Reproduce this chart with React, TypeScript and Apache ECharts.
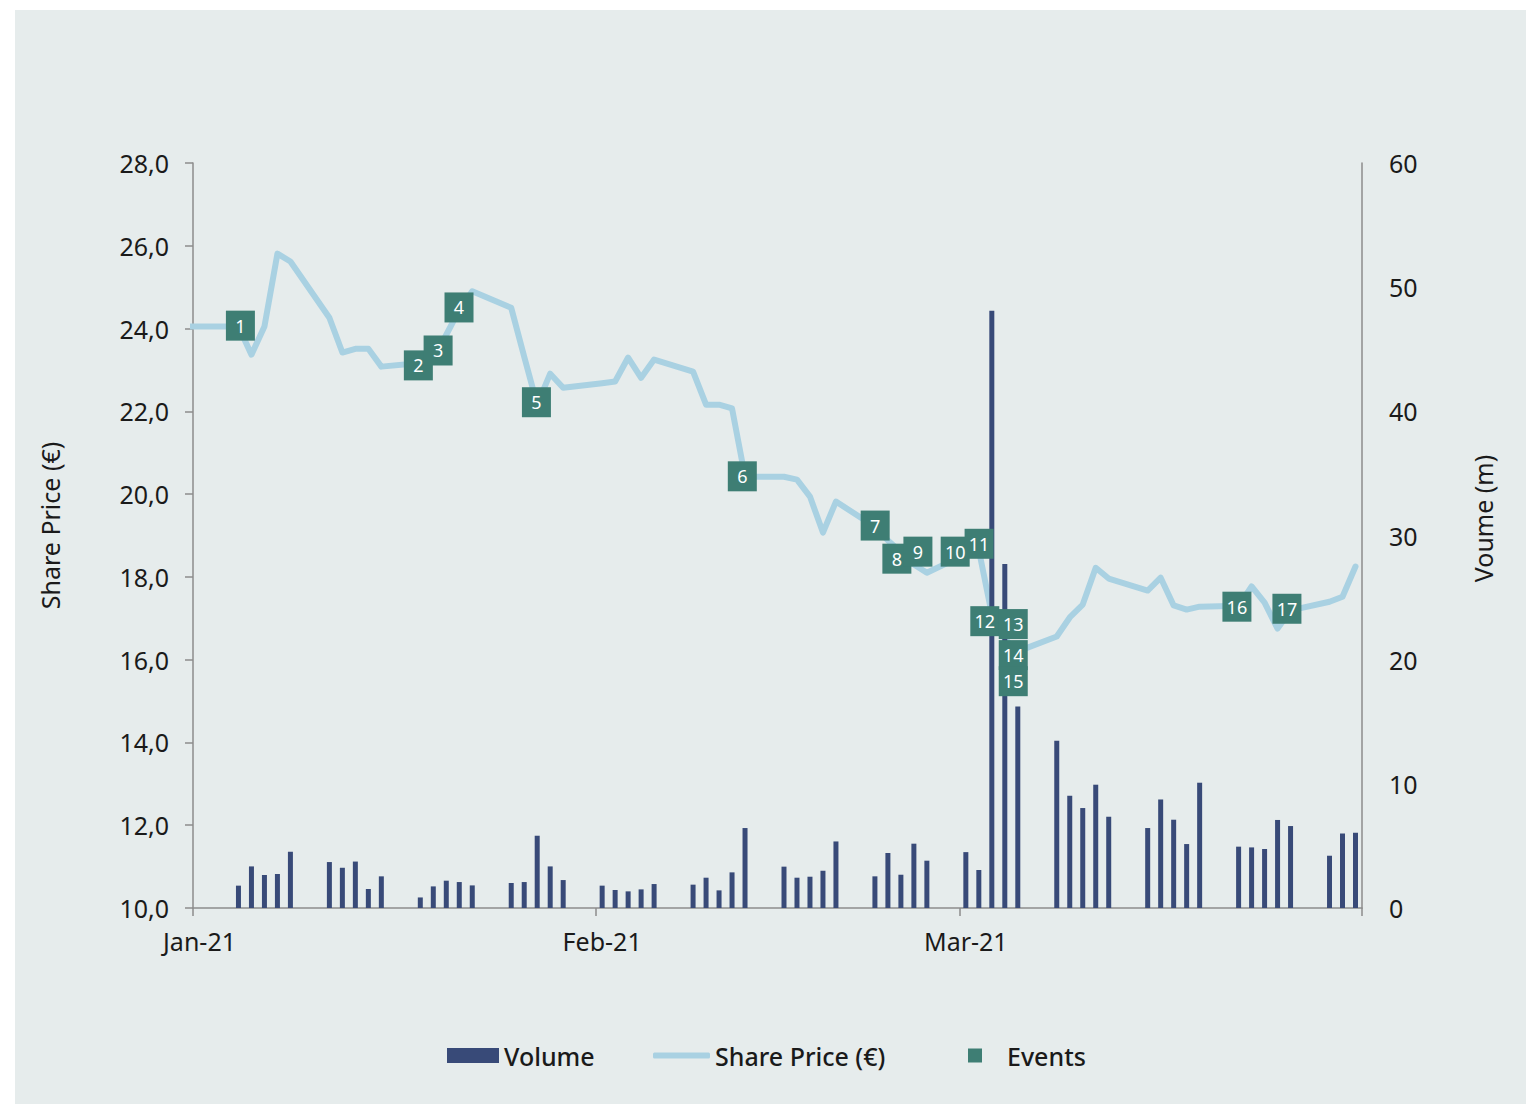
import React, { useEffect, useRef } from "react";
import * as echarts from "echarts";

// Trading days (Jan–Mar 2021)
const tradingDates = [
  "2021-01-04","2021-01-05","2021-01-06","2021-01-07","2021-01-08",
  "2021-01-11","2021-01-12","2021-01-13","2021-01-14","2021-01-15",
  "2021-01-18","2021-01-19","2021-01-20","2021-01-21","2021-01-22",
  "2021-01-25","2021-01-26","2021-01-27","2021-01-28","2021-01-29",
  "2021-02-01","2021-02-02","2021-02-03","2021-02-04","2021-02-05",
  "2021-02-08","2021-02-09","2021-02-10","2021-02-11","2021-02-12",
  "2021-02-15","2021-02-16","2021-02-17","2021-02-18","2021-02-19",
  "2021-02-22","2021-02-23","2021-02-24","2021-02-25","2021-02-26",
  "2021-03-01","2021-03-02","2021-03-03","2021-03-04","2021-03-05",
  "2021-03-08","2021-03-09","2021-03-10","2021-03-11","2021-03-12",
  "2021-03-15","2021-03-16","2021-03-17","2021-03-18","2021-03-19",
  "2021-03-22","2021-03-23","2021-03-24","2021-03-25","2021-03-26",
  "2021-03-29","2021-03-30","2021-03-31",
];

// Volume (m)
const volume = [
  1.8, 3.35, 2.66, 2.74, 4.53, 3.7, 3.24, 3.74, 1.53, 2.55,
  0.85, 1.74, 2.2, 2.09, 1.82, 2.01, 2.09, 5.82, 3.35, 2.25,
  1.8, 1.45, 1.34, 1.5, 1.93, 1.88, 2.44, 1.42, 2.87, 6.44,
  3.33, 2.44, 2.52, 3.0, 5.36, 2.55, 4.43, 2.68, 5.18, 3.81,
  4.5, 3.06, 48.1, 27.7, 16.23, 13.47, 9.04, 8.05, 9.93, 7.35,
  6.44, 8.74, 7.11, 5.15, 10.09, 4.94, 4.88, 4.75, 7.09, 6.6,
  4.21, 6.0, 6.06,
];

// Share price (€) – leading holiday points carry the previous close
const leadingPriceDates = ["2020-12-31", "2021-01-01"];
const leadingPrices = [24.05, 24.05];
const price = [
  24.05, 23.37, 24.05, 25.81, 25.62, 24.26, 23.42, 23.51, 23.51, 23.08,
  23.17, 23.25, 23.85, 24.45, 24.9, 24.5, 23.32, 22.16, 22.91, 22.57,
  22.68, 22.72, 23.3, 22.81, 23.25, 22.96, 22.16, 22.16, 22.07, 20.42,
  20.42, 20.35, 19.94, 19.07, 19.82, 19.21, 18.88, 18.6, 18.3, 18.1,
  18.55, 18.65, 17.1, 16.5, 16.2, 16.56, 17.02, 17.33, 18.22, 17.96,
  17.67, 17.98, 17.31, 17.21, 17.28, 17.3, 17.77, 17.38, 16.75, 17.19,
  17.4, 17.52, 18.25,
];

// Events: position in days since 1 Jan 2021, price level, label
const eventDay = [3.65, 17.35, 18.87, 20.48, 26.44, 42.29, 52.52, 54.19, 55.81, 58.68, 60.52, 60.96, 63.15, 63.15, 63.15, 80.37, 84.22];
const eventPrice = [24.07, 23.11, 23.47, 24.51, 22.22, 20.43, 19.24, 18.44, 18.61, 18.61, 18.8, 16.93, 16.86, 16.11, 15.48, 17.28, 17.23];
const eventLabels = ["1","2","3","4","5","6","7","8","9","10","11","12","13","14","15","16","17"];

// Axis months
const monthStarts = ["2021-01-01", "2021-02-01", "2021-03-01", "2021-04-01"];
const monthLabels = ["Jan-21", "Feb-21", "Mar-21"];

const DAY0 = Date.UTC(2021, 0, 1);
const dayStart = (s: string) => {
  const [y, m, d] = s.split("-").map(Number);
  return (Date.UTC(y, m - 1, d) - DAY0) / 86400000;
};
const dayCenter = (s: string) => dayStart(s) + 0.5;

const FONT = "Noto Sans";
const AXIS_GREY = "#8c8c8c";
const TEXT = "#1a1a1a";
const LINE_BLUE = "#a9d1e2";

export default function App() {
  const ref = useRef<HTMLDivElement>(null);

  useEffect(() => {
    if (!ref.current) return;
    const chart = echarts.init(ref.current, undefined, { renderer: "svg" });

    const tickDays = monthStarts.map(dayStart);
    const labelDays = monthStarts.slice(0, 3).map(dayCenter);

    const volumeData = tradingDates.map((d, i) => [dayCenter(d), volume[i]]);
    const priceData = [
      ...leadingPriceDates.map((d, i) => [dayCenter(d), leadingPrices[i]]),
      ...tradingDates.map((d, i) => [dayCenter(d), price[i]]),
    ];
    const eventData = eventDay.map((d, i) => ({ value: [d, eventPrice[i]], name: eventLabels[i] }));

    const legendText = { fontSize: 25, color: TEXT, fontFamily: FONT, fontWeight: 500 };

    chart.setOption({
      animation: false,
      backgroundColor: "#ffffff",
      textStyle: { fontFamily: FONT },
      graphic: [
        {
          type: "rect",
          z: -10,
          silent: true,
          shape: { x: 15, y: 10, width: 1511, height: 1094 },
          style: { fill: "#e6ecec" },
        },
      ],
      grid: { left: 193, right: 164, top: 163, bottom: 196, containLabel: false },
      legend: [
        {
          left: 447,
          top: 1043,
          padding: 0,
          itemWidth: 52,
          itemHeight: 15,
          selectedMode: false,
          data: [{ name: "Volume", icon: "rect" }],
          textStyle: legendText,
        },
        {
          left: 653,
          top: 1043,
          padding: 0,
          itemWidth: 57,
          itemHeight: 6,
          selectedMode: false,
          data: [{ name: "Share Price (€)", icon: "roundRect", itemStyle: { color: LINE_BLUE } }],
          textStyle: legendText,
        },
        {
          left: 968,
          top: 1043,
          padding: 0,
          itemWidth: 14,
          itemHeight: 14,
          selectedMode: false,
          data: [{ name: "Events", icon: "rect" }],
          textStyle: { ...legendText, padding: [0, 0, 0, 20] },
        },
      ],
      xAxis: {
        type: "value",
        min: 0,
        max: 90,
        axisLine: { show: true, lineStyle: { color: AXIS_GREY, width: 1.5 } },
        axisTick: { show: true, length: 8, customValues: tickDays, lineStyle: { color: AXIS_GREY, width: 1.5 } },
        axisLabel: {
          customValues: labelDays,
          margin: 20,
          fontSize: 25,
          color: TEXT,
          fontFamily: FONT,
          formatter: (v: number) => {
            const idx = labelDays.findIndex((c) => Math.abs(c - v) < 0.01);
            return idx >= 0 ? monthLabels[idx] : "";
          },
        },
        splitLine: { show: false },
      },
      yAxis: [
        {
          type: "value",
          min: 10,
          max: 28,
          interval: 2,
          position: "left",
          name: "Share Price (€)",
          nameLocation: "middle",
          nameRotate: 90,
          nameGap: 131,
          nameTextStyle: { fontSize: 25, color: TEXT, fontFamily: FONT, padding: [0, 0, 0, 20] },
          axisLine: { show: true, lineStyle: { color: AXIS_GREY, width: 1.5 } },
          axisTick: { show: true, length: 8, lineStyle: { color: AXIS_GREY, width: 1.5 } },
          axisLabel: {
            margin: 24,
            fontSize: 25,
            color: TEXT,
            fontFamily: FONT,
            formatter: (v: number) => v.toFixed(1).replace(".", ","),
          },
          splitLine: { show: false },
        },
        {
          type: "value",
          min: 0,
          max: 60,
          interval: 10,
          position: "right",
          name: "Voume (m)",
          nameLocation: "middle",
          nameRotate: 90,
          nameGap: 108,
          nameTextStyle: { fontSize: 25, color: TEXT, fontFamily: FONT, padding: [0, 0, 0, 34] },
          axisLine: { show: true, lineStyle: { color: AXIS_GREY, width: 1.5 } },
          axisTick: { show: false },
          axisLabel: { margin: 27, fontSize: 25, color: TEXT, fontFamily: FONT },
          splitLine: { show: false },
        },
      ],
      series: [
        {
          name: "Share Price (€)",
          type: "line",
          xAxisIndex: 0,
          yAxisIndex: 0,
          data: priceData,
          showSymbol: false,
          symbol: "none",
          z: 2,
          lineStyle: { color: LINE_BLUE, width: 6, join: "round", cap: "round" },
          itemStyle: { color: LINE_BLUE },
        },
        {
          name: "Volume",
          type: "bar",
          xAxisIndex: 0,
          yAxisIndex: 1,
          data: volumeData,
          barWidth: 5,
          z: 3,
          itemStyle: { color: "#384a78" },
        },
        {
          name: "Events",
          type: "scatter",
          xAxisIndex: 0,
          yAxisIndex: 0,
          data: eventData,
          symbol: "rect",
          symbolSize: [29, 30],
          z: 5,
          itemStyle: { color: "#3e7e74", opacity: 1 },
          label: {
            show: true,
            position: "inside",
            formatter: (p: any) => p.name,
            color: "#ffffff",
            fontSize: 18,
            fontFamily: FONT,
          },
        },
      ],
    });

    return () => chart.dispose();
  }, []);

  return (
    <div
      ref={ref}
      style={{ position: "absolute", left: 0, top: 0, width: 1526, height: 1104 }}
    />
  );
}
